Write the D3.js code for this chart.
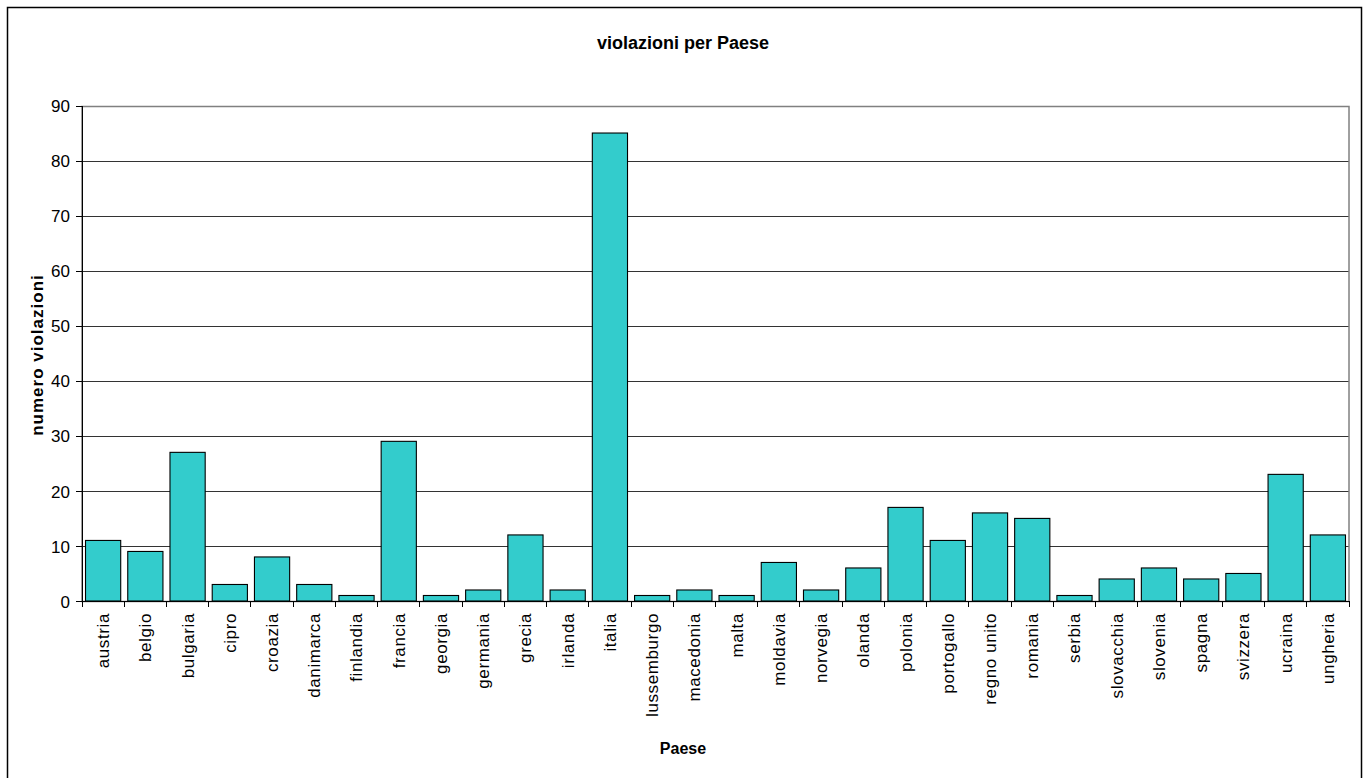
<!DOCTYPE html>
<html lang="it">
<head>
  <meta charset="UTF-8">
  <title>violazioni per Paese</title>
  <style>
    body { margin: 0; background: #fff; }
    svg { display: block; font-family: "Liberation Sans", Arial, sans-serif; }
    .axis text { font-size: 17px; fill: #000; }
    .axis path, .axis line { stroke: #000; shape-rendering: crispEdges; }
  </style>
</head>
<body>
  <svg id="chart"></svg>

  <script src="https://d3js.org/d3.v7.min.js"></script>
  <script>
    // data
    const countries = ["austria", "belgio", "bulgaria", "cipro", "croazia", "danimarca", "finlandia",
      "francia", "georgia", "germania", "grecia", "irlanda", "italia", "lussemburgo", "macedonia",
      "malta", "moldavia", "norvegia", "olanda", "polonia", "portogallo", "regno unito", "romania",
      "serbia", "slovacchia", "slovenia", "spagna", "svizzera", "ucraina", "ungheria"];
    const violations = [11, 9, 27, 3, 8, 3, 1, 29, 1, 2, 12, 2, 85, 1, 2, 1, 7, 2, 6, 17, 11, 16, 15,
      1, 4, 6, 4, 5, 23, 12];
    const yTicks = [0, 10, 20, 30, 40, 50, 60, 70, 80, 90];

    const chartTitle = "violazioni per Paese";
    const xTitle = "Paese";
    const yTitle = "numero violazioni";

    const svgWidth = 1367;
    const svgHeight = 778;
    const plot = { left: 82, right: 1349, top: 105.5, bottom: 601 };

    const svg = d3.select("#chart")
      .attr("width", svgWidth)
      .attr("height", svgHeight);

    // outer chart border
    svg.append("rect")
      .attr("x", 7.5).attr("y", 7.5)
      .attr("width", 1354).attr("height", 790)
      .attr("fill", "#fff").attr("stroke", "#000").attr("stroke-width", 1.5);

    const x = d3.scaleBand()
      .domain(countries)
      .range([plot.left, plot.right])
      .paddingInner(1 / 6)
      .paddingOuter(1 / 12);

    const y = d3.scaleLinear()
      .domain([0, 90])
      .range([plot.bottom, plot.top]);

    // gridlines
    svg.append("g")
      .selectAll("line")
      .data(yTicks.filter(d => d > 0 && d < 90))
      .join("line")
      .attr("x1", plot.left).attr("x2", plot.right)
      .attr("y1", d => Math.round(y(d)) + 0.5).attr("y2", d => Math.round(y(d)) + 0.5)
      .attr("stroke", "#333").attr("stroke-width", 1.2);

    // plot area border (gray)
    svg.append("rect")
      .attr("x", plot.left).attr("y", Math.round(plot.top) + 0.5)
      .attr("width", plot.right - plot.left)
      .attr("height", plot.bottom - Math.round(plot.top))
      .attr("fill", "none").attr("stroke", "#808080").attr("stroke-width", 1.5);

    // bars
    svg.append("g")
      .selectAll("rect")
      .data(countries.map((c, i) => ({ c, v: violations[i] })))
      .join("rect")
      .attr("x", d => x(d.c))
      .attr("y", d => y(d.v))
      .attr("width", x.bandwidth())
      .attr("height", d => y(0) - y(d.v))
      .attr("fill", "#33cccc")
      .attr("stroke", "#000")
      .attr("stroke-width", 1.1);

    // y axis
    svg.append("g")
      .attr("class", "axis")
      .attr("transform", `translate(${plot.left},0)`)
      .call(d3.axisLeft(y).tickValues(yTicks).tickSize(6).tickPadding(6).tickSizeOuter(0))
      .selectAll("text").attr("dy", "0.36em");

    // x axis: ticks between categories
    const xAxis = svg.append("g")
      .attr("class", "axis")
      .attr("transform", `translate(0,${plot.bottom})`);

    xAxis.append("line")
      .attr("x1", plot.left).attr("x2", plot.right)
      .attr("y1", 0.5).attr("y2", 0.5);

    xAxis.selectAll(".sep")
      .data(d3.range(countries.length + 1))
      .join("line")
      .attr("class", "sep")
      .attr("x1", i => plot.left + i * (plot.right - plot.left) / countries.length)
      .attr("x2", i => plot.left + i * (plot.right - plot.left) / countries.length)
      .attr("y1", 0).attr("y2", 6);

    xAxis.selectAll(".lbl")
      .data(countries)
      .join("text")
      .attr("class", "lbl")
      .attr("transform", d => `translate(${x(d) + x.bandwidth() / 2},12) rotate(-90)`)
      .attr("text-anchor", "end")
      .attr("dy", "0.35em")
      .style("letter-spacing", "0.6px")
      .text(d => d);

    // titles
    svg.append("text")
      .attr("x", 683).attr("y", 49)
      .attr("text-anchor", "middle")
      .style("font-size", "18px").style("font-weight", "bold")
      .text(chartTitle);

    svg.append("text")
      .attr("x", 683).attr("y", 754)
      .attr("text-anchor", "middle")
      .style("font-size", "16px").style("font-weight", "bold")
      .text(xTitle);

    svg.append("text")
      .attr("transform", `translate(43,355) rotate(-90)`)
      .attr("text-anchor", "middle")
      .style("font-size", "17px").style("font-weight", "bold")
      .style("letter-spacing", "1px")
      .text(yTitle);
  </script>
</body>
</html>
